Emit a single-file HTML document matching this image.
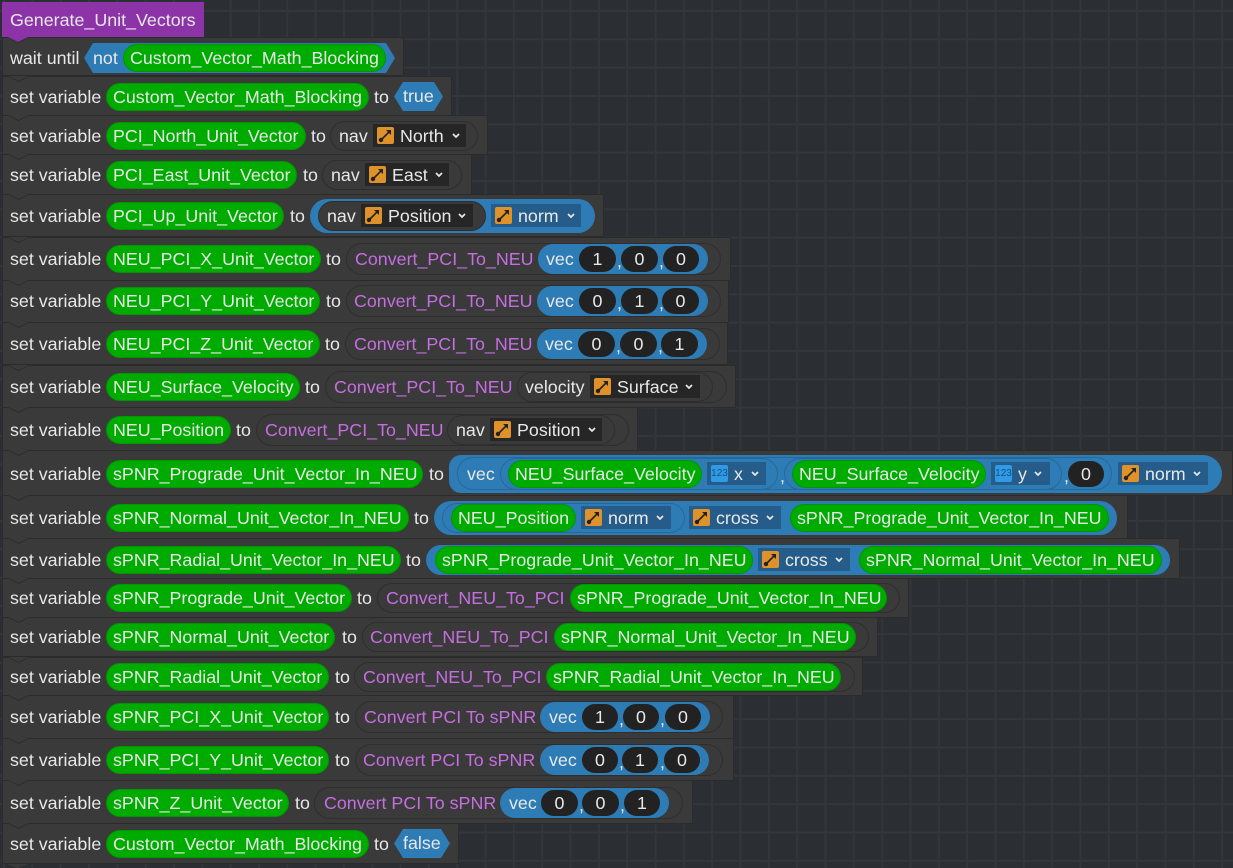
<!DOCTYPE html>
<html><head><meta charset="utf-8"><style>
html,body{margin:0;padding:0}
body{width:1233px;height:867px;overflow:hidden;position:relative;background-color:#2b2e32;
background-image:linear-gradient(#33363a 0 2px,transparent 2px),linear-gradient(90deg,#33363a 0 2px,transparent 2px);
background-size:28.33px 28.33px;background-position:3px 10px;font:17.85px/20px "Liberation Sans",sans-serif;color:#e8e8e8}
div,span,svg{position:absolute;box-sizing:border-box;white-space:nowrap}
.r{left:0;height:0;width:0}
.b{left:2px;background:#3a3a3a;border:1px solid #2b2b2b}
.b:before{content:"";position:absolute;left:4px;top:-1px;width:23px;height:6px;background:#2a2a2a;clip-path:polygon(0 0,100% 0,50% 100%)}
.b:after{content:"";position:absolute;left:5px;top:-1px;width:21px;height:5px;background:#3a3a3a;clip-path:polygon(0 0,100% 0,50% 100%)}
.t{top:-10px}
.v{color:#c56ee0}
.g{top:-14px;height:28px;line-height:26px;padding-left:6px;background:#00ab00;border:1px solid #009600;border-radius:14px}
.s{background:#3a3a3a;border:1px solid #2e2e2e;border-radius:16px;top:-16px;height:32px}
.l{background:#2d7cb5;border-radius:16px;top:-15px;height:30px}
.ls{background:#2d7cb5;border:1px solid #27689a;border-radius:16px}
.h{background:#2d7cb5;top:-15px;height:29px;clip-path:polygon(9px 0,calc(100% - 9px) 0,100% 50%,calc(100% - 9px) 100%,9px 100%,0 50%);line-height:29px;padding-left:9px}
.d{top:-12px;height:23px;background:#262626;line-height:24px}
.u{background:#255c8a}
.d span{left:27px;top:0}
.i{left:4px;top:3px;width:17px;height:17px}
.c{top:8px;width:10px;height:7px;fill:none;stroke:#e8e8e8;stroke-width:1.7}
.n{left:4px;top:3px;width:17px;height:17px;background:#2f9be6;border-radius:2px;font-size:10px;line-height:17px;text-align:center;color:#17507c}
.p{top:-13px;height:26px;background:#222;border-radius:13px;text-align:center;line-height:26px}
.x{top:-8px}
</style></head><body>
<svg width="0" height="0" style="position:absolute"><symbol id="a" viewBox="0 0 17 17"><rect width="17" height="17" rx="2" fill="#e0922a"/><path d="M4 13L13 4" stroke="#222" stroke-width="1.6"/><circle cx="4" cy="13" r="2.2" fill="#222"/><path d="M9 3h5v5z" fill="#222"/></symbol>
<symbol id="c" viewBox="0 0 10 7"><path d="M2 2l3 3 3-3"/></symbol></svg>

<div style="left:2px;top:2px;width:202px;height:35px;background:#8c33a8;line-height:37px;padding-left:8px">Generate_Unit_Vectors</div>

<div class="r" style="top:58px"><div class="b" style="top:-21px;height:39px;width:402px"></div>
<div style="left:8px;top:-21px;width:20px;height:5px;background:#8c33a8;clip-path:polygon(0 0,100% 0,50% 100%)"></div>
<div class="t" style="left:10px">wait until</div>
<div class="h" style="left:84px;width:311px;top:-15px;height:30px;line-height:30px">not</div>
<div class="g" style="left:123px;width:263px">Custom_Vector_Math_Blocking</div></div>

<div class="r" style="top:97px"><div class="b" style="top:-21px;height:40px;width:450px"></div>
<div class="t" style="left:10px">set variable</div>
<div class="g" style="left:106px;width:263px">Custom_Vector_Math_Blocking</div>
<div class="t" style="left:374px">to</div>
<div class="h" style="left:394px;width:49px">true</div></div>

<div class="r" style="top:136px"><div class="b" style="top:-21px;height:40px;width:486px"></div>
<div class="t" style="left:10px">set variable</div>
<div class="g" style="left:106px;width:200px">PCI_North_Unit_Vector</div>
<div class="t" style="left:311px">to</div>
<div class="s" style="left:330px;width:148px;top:-15px;height:30px"></div>
<div class="t" style="left:339px">nav</div>
<div class="d" style="left:373px;width:93px"><svg class="i"><use href="#a"/></svg><span>North</span><svg class="c" style="left:78px"><use href="#c"/></svg></div></div>

<div class="r" style="top:175px"><div class="b" style="top:-21px;height:41px;width:470px"></div>
<div class="t" style="left:10px">set variable</div>
<div class="g" style="left:106px;width:191px">PCI_East_Unit_Vector</div>
<div class="t" style="left:303px">to</div>
<div class="s" style="left:322px;width:140px;top:-15px;height:30px"></div>
<div class="t" style="left:331px">nav</div>
<div class="d" style="left:365px;width:84px"><svg class="i"><use href="#a"/></svg><span>East</span><svg class="c" style="left:69px"><use href="#c"/></svg></div></div>

<div class="r" style="top:216px"><div class="b" style="top:-22px;height:43px;width:602px"></div>
<div class="t" style="left:10px">set variable</div>
<div class="g" style="left:106px;width:178px">PCI_Up_Unit_Vector</div>
<div class="t" style="left:290px">to</div>
<div class="l" style="left:310px;width:285px;top:-17px;height:34px;border-radius:17px"></div>
<div class="s" style="left:318px;width:168px;top:-15px;height:30px"></div>
<div class="t" style="left:327px">nav</div>
<div class="d" style="left:361px;width:112px"><svg class="i"><use href="#a"/></svg><span>Position</span><svg class="c" style="left:96px"><use href="#c"/></svg></div>
<div class="d u" style="left:491px;width:90px"><svg class="i"><use href="#a"/></svg><span>norm</span><svg class="c" style="left:75px"><use href="#c"/></svg></div></div>

<div class="r" style="top:259px"><div class="b" style="top:-22px;height:44px;width:729px"></div>
<div class="t" style="left:10px">set variable</div>
<div class="g" style="left:106px;width:215px">NEU_PCI_X_Unit_Vector</div>
<div class="t" style="left:326px">to</div>
<div class="s" style="left:346px;width:375px"></div>
<div class="t v" style="left:355px">Convert_PCI_To_NEU</div>
<div class="l" style="left:538px;width:170px"></div>
<div class="t" style="left:546px">vec</div>
<div class="p" style="left:579px;width:37px">1</div><div class="t x" style="left:617px">,</div>
<div class="p" style="left:621px;width:37px">0</div><div class="t x" style="left:659px">,</div>
<div class="p" style="left:663px;width:36px">0</div></div>

<div class="r" style="top:301px"><div class="b" style="top:-21px;height:43px;width:727px"></div>
<div class="t" style="left:10px">set variable</div>
<div class="g" style="left:106px;width:214px">NEU_PCI_Y_Unit_Vector</div>
<div class="t" style="left:326px">to</div>
<div class="s" style="left:346px;width:375px"></div>
<div class="t v" style="left:354px">Convert_PCI_To_NEU</div>
<div class="l" style="left:537px;width:171px"></div>
<div class="t" style="left:546px">vec</div>
<div class="p" style="left:579px;width:37px">0</div><div class="t x" style="left:617px">,</div>
<div class="p" style="left:621px;width:37px">1</div><div class="t x" style="left:659px">,</div>
<div class="p" style="left:662px;width:37px">0</div></div>

<div class="r" style="top:344px"><div class="b" style="top:-22px;height:43px;width:726px"></div>
<div class="t" style="left:10px">set variable</div>
<div class="g" style="left:106px;width:214px">NEU_PCI_Z_Unit_Vector</div>
<div class="t" style="left:325px">to</div>
<div class="s" style="left:345px;width:375px"></div>
<div class="t v" style="left:354px">Convert_PCI_To_NEU</div>
<div class="l" style="left:537px;width:170px"></div>
<div class="t" style="left:545px">vec</div>
<div class="p" style="left:578px;width:37px">0</div><div class="t x" style="left:616px">,</div>
<div class="p" style="left:620px;width:37px">0</div><div class="t x" style="left:658px">,</div>
<div class="p" style="left:661px;width:37px">1</div></div>

<div class="r" style="top:387px"><div class="b" style="top:-22px;height:43px;width:734px"></div>
<div class="t" style="left:10px">set variable</div>
<div class="g" style="left:106px;width:194px">NEU_Surface_Velocity</div>
<div class="t" style="left:305px">to</div>
<div class="s" style="left:325px;width:402px"></div>
<div class="t v" style="left:334px">Convert_PCI_To_NEU</div>
<div class="s" style="left:517px;width:196px;top:-15px;height:30px"></div>
<div class="t" style="left:525px">velocity</div>
<div class="d" style="left:590px;width:110px"><svg class="i"><use href="#a"/></svg><span>Surface</span><svg class="c" style="left:94px"><use href="#c"/></svg></div></div>

<div class="r" style="top:430px"><div class="b" style="top:-23px;height:44px;width:636px"></div>
<div class="t" style="left:10px">set variable</div>
<div class="g" style="left:106px;width:125px">NEU_Position</div>
<div class="t" style="left:236px">to</div>
<div class="s" style="left:256px;width:373px"></div>
<div class="t v" style="left:265px">Convert_PCI_To_NEU</div>
<div class="s" style="left:447px;width:168px;top:-15px;height:30px"></div>
<div class="t" style="left:456px">nav</div>
<div class="d" style="left:490px;width:112px"><svg class="i"><use href="#a"/></svg><span>Position</span><svg class="c" style="left:97px"><use href="#c"/></svg></div></div>

<div class="r" style="top:474px"><div class="b" style="top:-24px;height:46px;width:1231px"></div>
<div class="t" style="left:10px">set variable</div>
<div class="g" style="left:106px;width:317px">sPNR_Prograde_Unit_Vector_In_NEU</div>
<div class="t" style="left:429px">to</div>
<div class="l" style="left:449px;width:773px;top:-19px;height:38px;border-radius:12px 19px 19px 12px"></div>
<div class="ls" style="left:457px;width:655px;top:-17px;height:33px"></div>
<div class="t" style="left:467px">vec</div>
<div class="ls" style="left:500px;width:278px;top:-16px;height:32px"></div>
<div class="g" style="left:508px;width:194px">NEU_Surface_Velocity</div>
<div class="d u" style="left:707px;width:59px"><div class="n">123</div><span>x</span><svg class="c" style="left:43px"><use href="#c"/></svg></div>
<div class="t x" style="left:780px">,</div>
<div class="ls" style="left:784px;width:278px;top:-16px;height:32px"></div>
<div class="g" style="left:792px;width:194px">NEU_Surface_Velocity</div>
<div class="d u" style="left:991px;width:59px"><div class="n">123</div><span>y</span><svg class="c" style="left:42px"><use href="#c"/></svg></div>
<div class="t x" style="left:1064px">,</div>
<div class="p" style="left:1068px;width:36px">0</div>
<div class="d u" style="left:1118px;width:90px"><svg class="i"><use href="#a"/></svg><span>norm</span><svg class="c" style="left:74px"><use href="#c"/></svg></div></div>

<div class="r" style="top:518px"><div class="b" style="top:-23px;height:44px;width:1126px"></div>
<div class="t" style="left:10px">set variable</div>
<div class="g" style="left:106px;width:303px">sPNR_Normal_Unit_Vector_In_NEU</div>
<div class="t" style="left:414px">to</div>
<div class="l" style="left:434px;width:683px;top:-17px;height:34px;border-radius:17px"></div>
<div class="ls" style="left:442px;width:243px;top:-15px;height:30px"></div>
<div class="g" style="left:451px;width:125px">NEU_Position</div>
<div class="d u" style="left:581px;width:90px"><svg class="i"><use href="#a"/></svg><span>norm</span><svg class="c" style="left:74px"><use href="#c"/></svg></div>
<div class="d u" style="left:689px;width:92px"><svg class="i"><use href="#a"/></svg><span>cross</span><svg class="c" style="left:76px"><use href="#c"/></svg></div>
<div class="g" style="left:790px;width:319px">sPNR_Prograde_Unit_Vector_In_NEU</div></div>

<div class="r" style="top:560px"><div class="b" style="top:-22px;height:41px;width:1178px"></div>
<div class="t" style="left:10px">set variable</div>
<div class="g" style="left:106px;width:295px">sPNR_Radial_Unit_Vector_In_NEU</div>
<div class="t" style="left:406px">to</div>
<div class="l" style="left:426px;width:744px"></div>
<div class="g" style="left:435px;width:318px">sPNR_Prograde_Unit_Vector_In_NEU</div>
<div class="d u" style="left:758px;width:92px"><svg class="i"><use href="#a"/></svg><span>cross</span><svg class="c" style="left:76px"><use href="#c"/></svg></div>
<div class="g" style="left:859px;width:303px">sPNR_Normal_Unit_Vector_In_NEU</div></div>

<div class="r" style="top:598px"><div class="b" style="top:-20px;height:40px;width:907px"></div>
<div class="t" style="left:10px">set variable</div>
<div class="g" style="left:106px;width:246px">sPNR_Prograde_Unit_Vector</div>
<div class="t" style="left:357px">to</div>
<div class="s" style="left:377px;width:523px;top:-15px;height:30px"></div>
<div class="t v" style="left:386px">Convert_NEU_To_PCI</div>
<div class="g" style="left:570px;width:317px">sPNR_Prograde_Unit_Vector_In_NEU</div></div>

<div class="r" style="top:637px"><div class="b" style="top:-20px;height:40px;width:876px"></div>
<div class="t" style="left:10px">set variable</div>
<div class="g" style="left:106px;width:229px">sPNR_Normal_Unit_Vector</div>
<div class="t" style="left:342px">to</div>
<div class="s" style="left:362px;width:507px;top:-15px;height:30px"></div>
<div class="t v" style="left:370px">Convert_NEU_To_PCI</div>
<div class="g" style="left:554px;width:302px">sPNR_Normal_Unit_Vector_In_NEU</div></div>

<div class="r" style="top:677px"><div class="b" style="top:-20px;height:39px;width:861px"></div>
<div class="t" style="left:10px">set variable</div>
<div class="g" style="left:106px;width:223px">sPNR_Radial_Unit_Vector</div>
<div class="t" style="left:335px">to</div>
<div class="s" style="left:354px;width:501px;top:-15px;height:30px"></div>
<div class="t v" style="left:363px">Convert_NEU_To_PCI</div>
<div class="g" style="left:546px;width:295px">sPNR_Radial_Unit_Vector_In_NEU</div></div>

<div class="r" style="top:717px"><div class="b" style="top:-22px;height:44px;width:732px"></div>
<div class="t" style="left:10px">set variable</div>
<div class="g" style="left:106px;width:223px">sPNR_PCI_X_Unit_Vector</div>
<div class="t" style="left:335px">to</div>
<div class="s" style="left:355px;width:368px"></div>
<div class="t v" style="left:364px">Convert PCI To sPNR</div>
<div class="l" style="left:540px;width:170px"></div>
<div class="t" style="left:549px">vec</div>
<div class="p" style="left:582px;width:36px">1</div><div class="t x" style="left:619px">,</div>
<div class="p" style="left:623px;width:36px">0</div><div class="t x" style="left:660px">,</div>
<div class="p" style="left:665px;width:36px">0</div></div>

<div class="r" style="top:760px"><div class="b" style="top:-22px;height:43px;width:732px"></div>
<div class="t" style="left:10px">set variable</div>
<div class="g" style="left:106px;width:223px">sPNR_PCI_Y_Unit_Vector</div>
<div class="t" style="left:335px">to</div>
<div class="s" style="left:355px;width:368px"></div>
<div class="t v" style="left:363px">Convert PCI To sPNR</div>
<div class="l" style="left:540px;width:169px"></div>
<div class="t" style="left:549px">vec</div>
<div class="p" style="left:582px;width:36px">0</div><div class="t x" style="left:619px">,</div>
<div class="p" style="left:622px;width:36px">1</div><div class="t x" style="left:660px">,</div>
<div class="p" style="left:664px;width:36px">0</div></div>

<div class="r" style="top:803px"><div class="b" style="top:-23px;height:44px;width:691px"></div>
<div class="t" style="left:10px">set variable</div>
<div class="g" style="left:106px;width:183px">sPNR_Z_Unit_Vector</div>
<div class="t" style="left:295px">to</div>
<div class="s" style="left:314px;width:369px"></div>
<div class="t v" style="left:324px">Convert PCI To sPNR</div>
<div class="l" style="left:500px;width:169px"></div>
<div class="t" style="left:509px">vec</div>
<div class="p" style="left:541px;width:37px">0</div><div class="t x" style="left:579px">,</div>
<div class="p" style="left:582px;width:37px">0</div><div class="t x" style="left:620px">,</div>
<div class="p" style="left:624px;width:36px">1</div></div>

<div class="r" style="top:844px"><div class="b" style="top:-21px;height:41px;width:457px"></div>
<div class="t" style="left:10px">set variable</div>
<div class="g" style="left:106px;width:263px">Custom_Vector_Math_Blocking</div>
<div class="t" style="left:374px">to</div>
<div class="h" style="left:394px;width:56px">false</div>
<div style="left:7px;top:20px;width:21px;height:4px;background:#3a3a3a;clip-path:polygon(0 0,100% 0,50% 100%)"></div></div>
</body></html>
